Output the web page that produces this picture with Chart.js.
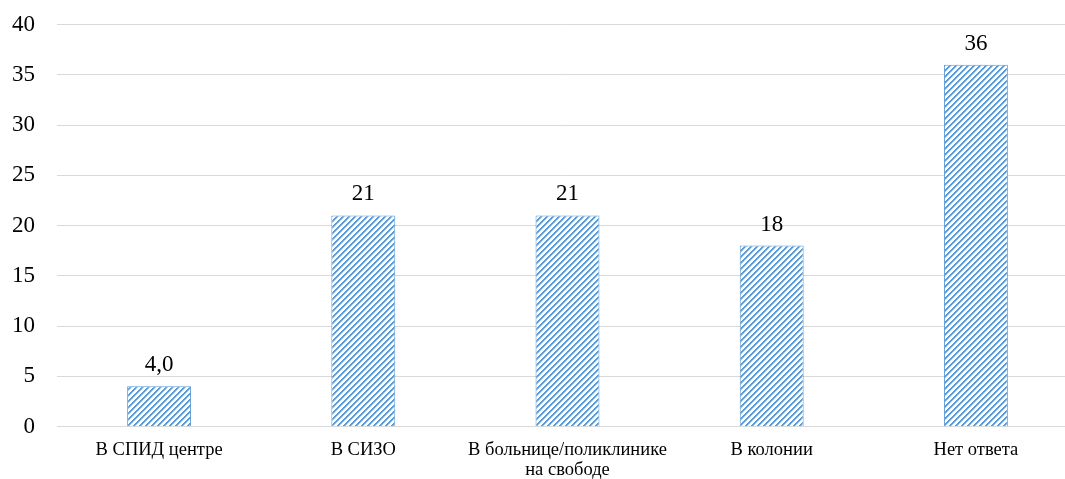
<!DOCTYPE html>
<html>
<head>
<meta charset="utf-8">
<script src="https://cdn.jsdelivr.net/npm/chart.js@4"></script>
<style>
html,body{margin:0;padding:0;background:#fff;overflow:hidden;}
canvas{display:block;}
</style>
</head>
<body>
<canvas id="barChart" width="1080" height="479"></canvas>
<script>
// ===============================
// DATA
// ===============================

const categories = [
    "В СПИД центре",
    "В СИЗО",
    ["В больнице/поликлинике", "на свободе"],
    "В колонии",
    "Нет ответа"
];

const values = [4, 21, 21, 18, 36];

const valueLabels = ["4,0", "21", "21", "18", "36"];

const yTicks = [0, 5, 10, 15, 20, 25, 30, 35, 40];

// ===============================
// PATTERN
// ===============================

function makeStripes(){

    const p = document.createElement("canvas");
    p.width = 6;
    p.height = 6;
    const c = p.getContext("2d");

    c.fillStyle = "#ffffff";
    c.fillRect(0,0,6,6);

    for(let x=0;x<6;x++){
        for(let y=0;y<6;y++){
            const k = (x+y)%6;
            if(k < 2){
                c.fillStyle = "#5b9bd5";
                c.fillRect(x,y,1,1);
            }
            else if(k === 2){
                c.fillStyle = "#a9cbec";
                c.fillRect(x,y,1,1);
            }
        }
    }

    return c.createPattern(p,"repeat");
}

// ===============================
// VALUE LABELS
// ===============================

const valueLabelPlugin = {

    id:"valueLabels",

    afterDatasetsDraw(chart){

        const ctx = chart.ctx;
        const meta = chart.getDatasetMeta(0);

        ctx.save();
        ctx.font = "23px 'Liberation Serif'";
        ctx.fillStyle = "#000";
        ctx.textAlign = "center";
        ctx.textBaseline = "alphabetic";

        meta.data.forEach((bar,i)=>{
            ctx.fillText(valueLabels[i], bar.x, bar.y - 15);
        });

        ctx.restore();
    }
};

// ===============================
// CHART
// ===============================

const ctx = document
.getElementById("barChart")
.getContext("2d");

const gridColor = "#d9d9d9";

new Chart(ctx,{

    type:"bar",

    data:{

        labels:categories,

        datasets:[{

            data:values,

            backgroundColor:makeStripes(),

            borderColor:"#5b9bd5",

            borderWidth:1,

            categoryPercentage:1,

            barPercentage:0.313

        }]

    },

    options:{

        responsive:false,

        animation:false,

        devicePixelRatio:1,

        layout:{
            padding:{top:24.5, right:2, left:0, bottom:0}
        },

        plugins:{
            legend:{display:false},
            tooltip:{enabled:false}
        },

        scales:{

            x:{
                afterFit(axis){
                    axis.height = 52.5;
                    axis.paddingLeft = 0;
                    axis.paddingRight = 0;
                },
                grid:{display:false, drawTicks:false},
                border:{color:gridColor, width:1},
                ticks:{
                    color:"#000",
                    padding:14,
                    maxRotation:0,
                    autoSkip:false,
                    font:{family:"'Liberation Serif'", size:18.5, lineHeight:1.08}
                }
            },

            y:{
                min:0,
                max:40,
                afterBuildTicks(axis){
                    axis.ticks = yTicks.map(v=>({value:v}));
                },
                afterFit(axis){
                    axis.width = 57;
                    axis.paddingTop = 0;
                    axis.paddingBottom = 0;
                },
                grid:{color:gridColor, drawTicks:false},
                border:{display:false},
                ticks:{
                    color:"#000",
                    padding:22,
                    font:{family:"'Liberation Serif'", size:23}
                }
            }

        }

    },

    plugins:[valueLabelPlugin]

});
</script>
</body>
</html>
